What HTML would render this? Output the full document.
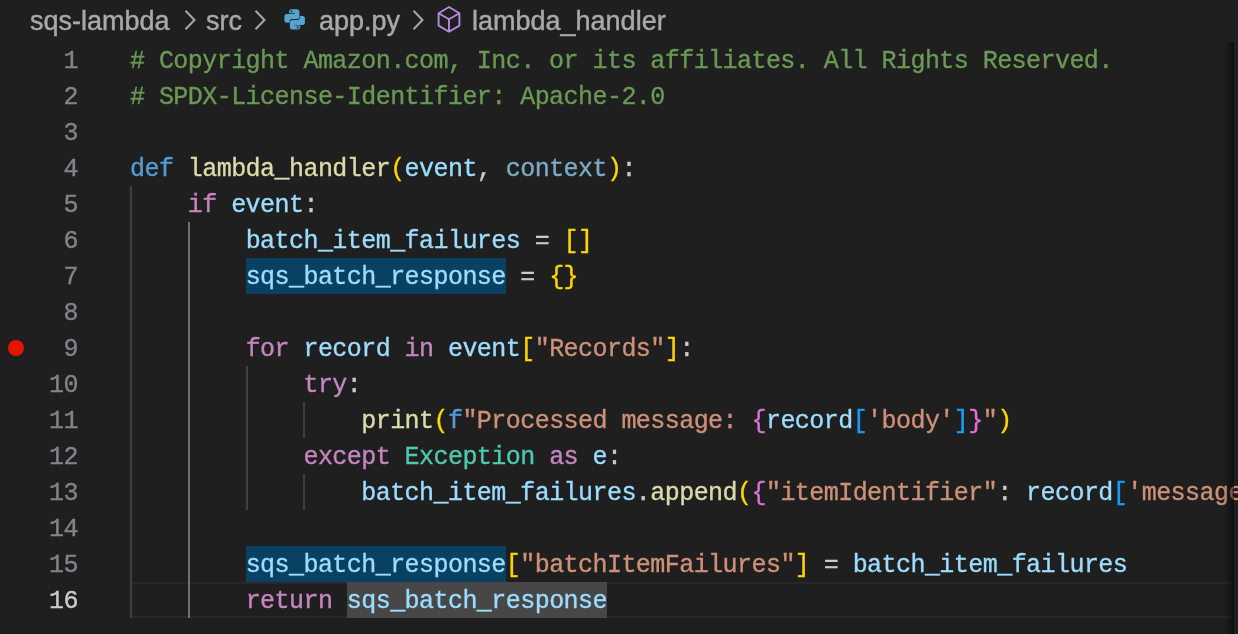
<!DOCTYPE html>
<html><head><meta charset="utf-8"><style>
html,body{margin:0;padding:0;}
body{width:1238px;height:634px;overflow:hidden;background:#1f1f1f;position:relative;}
.wrap{position:absolute;left:0;top:0;width:1238px;height:634px;will-change:transform;}
.bc{position:absolute;top:0;left:0;height:42px;font-family:"Liberation Sans",sans-serif;font-size:27px;color:#a9a9a9;}
.bc span{position:absolute;top:6px;white-space:pre;line-height:30px;-webkit-text-stroke:0.45px currentColor;}
.bc svg{position:absolute;}
.num{position:absolute;left:0;width:78px;text-align:right;font-family:"Liberation Mono",monospace;font-size:25px;letter-spacing:-0.55px;line-height:36px;height:36px;color:#80848b;padding-top:1.5px;box-sizing:border-box;-webkit-text-stroke:0.35px currentColor;}
.num.act{color:#cccccc;}
.ln{position:absolute;left:130px;height:36px;line-height:36px;white-space:pre;font-family:"Liberation Mono",monospace;font-size:25px;letter-spacing:-0.55px;padding-top:1.5px;box-sizing:border-box;-webkit-text-stroke:0.35px currentColor;}
.cm{color:#6a9955} .kw{color:#569cd6} .ct{color:#c586c0} .fn{color:#dcdcaa} .v{color:#9cdcfe} .s{color:#ce9178}
.ty{color:#4ec9b0} .b1{color:#ffd700} .b2{color:#da70d6} .b3{color:#179fff} .d{color:#cccccc} .un{color:#9cdcfe;opacity:.74}
.hl{background:#0a4162;display:inline-block;height:36px;margin-top:-1.5px;padding-top:1.5px;box-sizing:border-box;vertical-align:top;}
.hl2{background:#474747;display:inline-block;height:36px;margin-top:-1.5px;padding-top:1.5px;box-sizing:border-box;vertical-align:top;}
.guide{position:absolute;width:2px;background:#404040;}
.guide.act{background:#707070;}
.cur{position:absolute;left:132px;top:582px;width:1100px;height:36px;box-sizing:border-box;border-top:2px solid #282828;border-bottom:2px solid #282828;}
.shadow{position:absolute;left:1222px;top:42px;width:12px;height:592px;background:linear-gradient(to right,rgba(0,0,0,0) 0%,rgba(0,0,0,0.12) 40%,rgba(0,0,0,0.45) 85%,rgba(0,0,0,0.6) 100%);}
.bp{position:absolute;left:8px;top:340px;width:16px;height:16px;border-radius:50%;background:#e51400;}
</style></head><body><div class="wrap">
<div class="bc">
<span style="left:30px">sqs-lambda</span>
<svg style="left:183px;top:10px" width="14" height="20" viewBox="0 0 14 20"><path d="M2.5 0.8 L11.5 10 L2.5 19.2" fill="none" stroke="#a9a9a9" stroke-width="2"/></svg>
<span style="left:206px">src</span>
<svg style="left:253px;top:10px" width="14" height="20" viewBox="0 0 14 20"><path d="M2.5 0.8 L11.5 10 L2.5 19.2" fill="none" stroke="#a9a9a9" stroke-width="2"/></svg>
<svg style="left:282px;top:7px" width="25" height="25" viewBox="0 0 25 25"><g fill="#56a3cf"><path id="py" d="M9.6 2.2 H14.9 Q17.4 2.2 17.4 4.7 V9.4 Q17.4 11.9 14.9 11.9 H10.2 Q7.5 11.9 7.5 14.6 V15.8 H4.9 Q2.4 15.8 2.4 13.3 V9.4 Q2.4 6.9 4.9 6.9 H12.8 V6.3 H7.1 V4.7 Q7.1 2.2 9.6 2.2 Z"/><path d="M9.6 2.2 H14.9 Q17.4 2.2 17.4 4.7 V9.4 Q17.4 11.9 14.9 11.9 H10.2 Q7.5 11.9 7.5 14.6 V15.8 H4.9 Q2.4 15.8 2.4 13.3 V9.4 Q2.4 6.9 4.9 6.9 H12.8 V6.3 H7.1 V4.7 Q7.1 2.2 9.6 2.2 Z" transform="rotate(180 12.65 12.4)"/></g><circle cx="9.5" cy="4.3" r="0.9" fill="#1f1f1f"/><circle cx="15.8" cy="20.5" r="0.9" fill="#1f1f1f"/></svg>
<span style="left:319px">app.py</span>
<svg style="left:411px;top:10px" width="14" height="20" viewBox="0 0 14 20"><path d="M2.5 0.8 L11.5 10 L2.5 19.2" fill="none" stroke="#a9a9a9" stroke-width="2"/></svg>
<svg style="left:436px;top:5px" width="26" height="30" viewBox="0 0 26 30"><path d="M13 2 L23.4 8.2 V20.6 L13 26.8 L2.6 20.6 V8.2 Z M2.6 8.2 L13 14.2 L23.4 8.2 M13 14.2 V26.8" fill="none" stroke="#b78ade" stroke-width="1.9" stroke-linejoin="round"/></svg>
<span style="left:472px">lambda_handler</span>
</div>
<div class="num" style="top:42px">1</div><div class="num" style="top:78px">2</div><div class="num" style="top:114px">3</div><div class="num" style="top:150px">4</div><div class="num" style="top:186px">5</div><div class="num" style="top:222px">6</div><div class="num" style="top:258px">7</div><div class="num" style="top:294px">8</div><div class="num" style="top:330px">9</div><div class="num" style="top:366px">10</div><div class="num" style="top:402px">11</div><div class="num" style="top:438px">12</div><div class="num" style="top:474px">13</div><div class="num" style="top:510px">14</div><div class="num" style="top:546px">15</div><div class="num act" style="top:582px">16</div>
<div class="cur"></div>
<div class="ln" style="top:42px"><span class="cm"># Copyright Amazon.com, Inc. or its affiliates. All Rights Reserved.</span></div><div class="ln" style="top:78px"><span class="cm"># SPDX-License-Identifier: Apache-2.0</span></div><div class="ln" style="top:114px"></div><div class="ln" style="top:150px"><span class="kw">def</span><span class="d"> </span><span class="fn">lambda_handler</span><span class="b1">(</span><span class="v">event</span><span class="d">, </span><span class="un">context</span><span class="b1">)</span><span class="d">:</span></div><div class="ln" style="top:186px"><span class="d">    </span><span class="ct">if</span><span class="d"> </span><span class="v">event</span><span class="d">:</span></div><div class="ln" style="top:222px"><span class="d">        </span><span class="v">batch_item_failures</span><span class="d"> = </span><span class="b1">[]</span></div><div class="ln" style="top:258px"><span class="d">        </span><span class="v hl">sqs_batch_response</span><span class="d"> = </span><span class="b1">{}</span></div><div class="ln" style="top:294px"></div><div class="ln" style="top:330px"><span class="d">        </span><span class="ct">for</span><span class="d"> </span><span class="v">record</span><span class="d"> </span><span class="ct">in</span><span class="d"> </span><span class="v">event</span><span class="b1">[</span><span class="s">"Records"</span><span class="b1">]</span><span class="d">:</span></div><div class="ln" style="top:366px"><span class="d">            </span><span class="ct">try</span><span class="d">:</span></div><div class="ln" style="top:402px"><span class="d">                </span><span class="fn">print</span><span class="b1">(</span><span class="kw">f</span><span class="s">"Processed message: </span><span class="b2">{</span><span class="v">record</span><span class="b3">[</span><span class="s">'body'</span><span class="b3">]</span><span class="b2">}</span><span class="s">"</span><span class="b1">)</span></div><div class="ln" style="top:438px"><span class="d">            </span><span class="ct">except</span><span class="d"> </span><span class="ty">Exception</span><span class="d"> </span><span class="ct">as</span><span class="d"> </span><span class="v">e</span><span class="d">:</span></div><div class="ln" style="top:474px"><span class="d">                </span><span class="v">batch_item_failures</span><span class="d">.</span><span class="fn">append</span><span class="b1">(</span><span class="b2">{</span><span class="s">"itemIdentifier"</span><span class="d">: </span><span class="v">record</span><span class="b3">[</span><span class="s">'messageId'</span><span class="b3">]</span><span class="b2">}</span><span class="b1">)</span></div><div class="ln" style="top:510px"></div><div class="ln" style="top:546px"><span class="d">        </span><span class="v hl">sqs_batch_response</span><span class="b1">[</span><span class="s">"batchItemFailures"</span><span class="b1">]</span><span class="d"> = </span><span class="v">batch_item_failures</span></div><div class="ln" style="top:582px"><span class="d">        </span><span class="ct">return</span><span class="d"> </span><span class="v hl2">sqs_batch_response</span></div>
<div class="guide" style="left:130.0px;top:186px;height:432px"></div><div class="guide act" style="left:187.8px;top:222px;height:396px"></div><div class="guide" style="left:245.6px;top:366px;height:144px"></div><div class="guide" style="left:303.4px;top:402px;height:36px"></div><div class="guide" style="left:303.4px;top:474px;height:36px"></div>
<div class="bp"></div>
<div class="shadow"></div>
</div></body></html>
